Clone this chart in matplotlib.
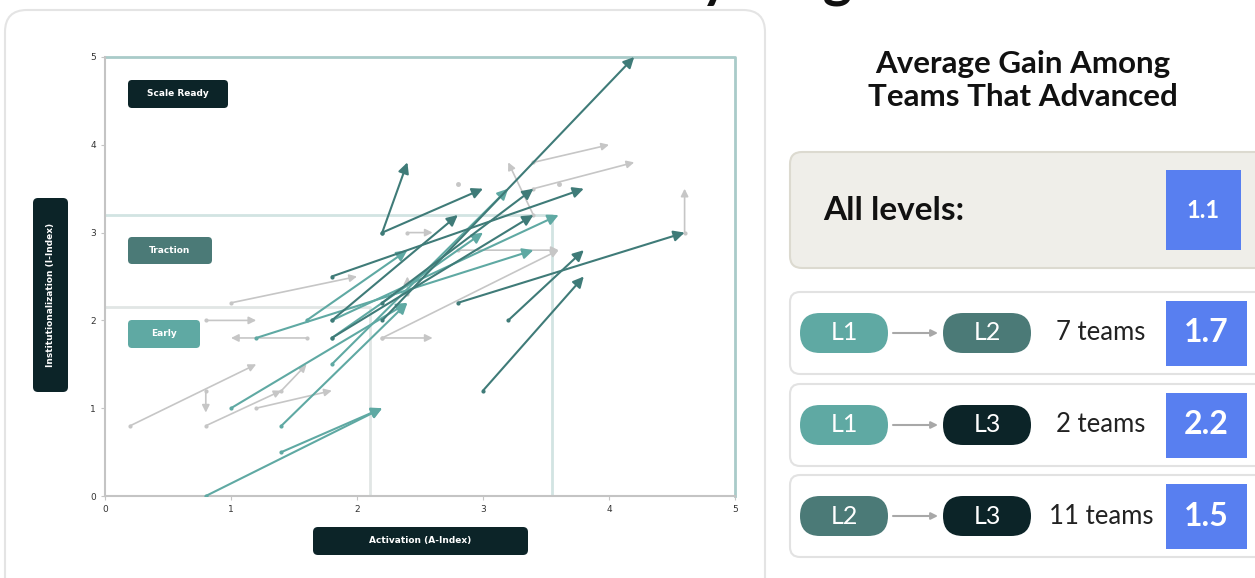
import matplotlib
matplotlib.use("Agg")
import matplotlib.pyplot as plt
from matplotlib.patches import FancyBboxPatch

# ==========================================================
# team moves on the A-Index / I-Index plane (start -> end)
# gray: stayed in level, teal: L1 advanced, dark teal: reached L3
gray_start = [(0.2, 0.8), (0.8, 1.2), (0.8, 0.8), (1.4, 1.2), (1.2, 1.0),
              (0.8, 2.0), (1.6, 1.8), (1.0, 2.2), (2.2, 1.8), (2.2, 1.8),
              (2.8, 2.8), (2.4, 3.0), (3.4, 3.2), (3.4, 3.8), (3.4, 3.5),
              (4.6, 3.0), (2.4, 2.3)]
gray_end = [(1.2, 1.5), (0.8, 0.95), (1.4, 1.2), (1.6, 1.5), (1.8, 1.2),
            (1.2, 2.0), (1.0, 1.8), (2.0, 2.5), (2.6, 1.8), (3.6, 2.8),
            (3.6, 2.8), (2.6, 3.0), (3.2, 3.8), (4.0, 4.0), (4.2, 3.8),
            (4.6, 3.5), (2.4, 2.5)]
gray_still = [(2.8, 3.55), (3.6, 3.55)]

teal_start = [(1.2, 1.8), (1.6, 2.0), (1.8, 2.0), (1.8, 1.8), (1.8, 1.5),
              (1.0, 1.0), (1.4, 0.8), (1.4, 0.5), (0.8, 0.0)]
teal_end = [(3.4, 2.8), (2.4, 2.8), (3.6, 3.2), (3.0, 3.0), (3.2, 3.5),
            (2.4, 2.2), (2.4, 2.2), (2.2, 1.0), (2.2, 1.0)]

dark_start = [(2.2, 3.0), (2.2, 3.0), (1.8, 2.5), (2.8, 2.2), (3.2, 2.0),
              (3.0, 1.2), (2.2, 2.2), (2.2, 2.0), (1.8, 2.0), (1.8, 1.8)]
dark_end = [(2.4, 3.8), (3.0, 3.5), (3.8, 3.5), (4.6, 3.0), (3.8, 2.8),
            (3.8, 2.5), (3.4, 3.5), (4.2, 5.0), (2.8, 3.2), (3.4, 3.2)]

# level boundaries (A, I)
early_lim = (2.1, 2.15)
traction_lim = (3.55, 3.2)
scale_lim = (5.0, 5.0)

# summary panel
all_gain = "1.1"
row_from = ["L1", "L1", "L2"]
row_to = ["L2", "L3", "L3"]
row_teams = ["7 teams", "2 teams", "11 teams"]
row_gain = ["1.7", "2.2", "1.5"]

# ==========================================================
C_L1 = "#5fa9a3"
C_L2 = "#4b7a77"
C_L3 = "#0c2428"
C_DARK_ARROW = "#3f7b78"
C_GRAY = "#c6c6c6"
C_BLUE = "#587ff0"
level_colors = {"L1": C_L1, "L2": C_L2, "L3": C_L3}

W, H = 1255, 578
fig = plt.figure(figsize=(W / 100, H / 100), dpi=100)
fig.patch.set_facecolor("white")

# pixel overlay for cards and labels
bg = fig.add_axes([0, 0, 1, 1])
bg.set_xlim(0, W)
bg.set_ylim(H, 0)
bg.axis("off")


def rbox(x, y, w, h, r, fc, ec="none", lw=1.0, z=1):
    p = FancyBboxPatch((x, y), w, h, boxstyle=f"round,pad=0,rounding_size={r}",
                       fc=fc, ec=ec, lw=lw, zorder=z)
    bg.add_patch(p)
    return p


# title, mostly cut off above the canvas (only descenders show)
bg.text(882, -3, "Team Movement by Stage", ha="right", va="baseline",
        fontsize=40, fontweight="bold", family="Lato", color="#111111")

# left card
rbox(5, 10, 760, 600, 22, "white", "#e4e4e4", 1.5)

# axis label boxes
rbox(33, 198, 35, 194, 5, C_L3, z=2)
bg.text(50.5, 295, "Institutionalization (I-Index)", rotation=90, ha="center",
        va="center", color="white", fontsize=6.5, fontweight="bold", zorder=3)
rbox(313, 527, 215, 28, 5, C_L3, z=2)
bg.text(420.5, 541, "Activation (A-Index)", ha="center", va="center",
        color="white", fontsize=6.5, fontweight="bold", zorder=3)

# level tags in the plot
tags = [("Scale Ready", 128, 80, 100, 28, C_L3),
        ("Traction", 128, 237, 84, 27, C_L2),
        ("Early", 128, 320, 72, 28, C_L1)]
for name, x, y, w, h, c in tags:
    rbox(x, y, w, h, 4, c, z=5)
    bg.text(x + w / 2, y + h / 2, name, ha="center", va="center", color="white",
            fontsize=6.5, fontweight="bold", zorder=6)

# ==========================================================
# the arrow plot
ax = fig.add_axes([105 / W, 1 - 496 / H, 630 / W, 439 / H])
ax.set_zorder(2)
ax.patch.set_alpha(0)
ax.set_xlim(0, 5)
ax.set_ylim(0, 5)
for s in ["top", "right"]:
    ax.spines[s].set_visible(False)
for s in ["left", "bottom"]:
    ax.spines[s].set_color("#c4c4c4")
    ax.spines[s].set_linewidth(1.5)
ax.set_xticks(range(6))
ax.set_yticks(range(6))
ax.tick_params(labelsize=6.5, length=3, color="#c4c4c4", labelcolor="#333333")

# level boundaries
ax.plot([0, early_lim[0], early_lim[0]], [early_lim[1], early_lim[1], 0],
        color="#e1e6e5", lw=2, zorder=1)
ax.plot([0, traction_lim[0], traction_lim[0]], [traction_lim[1], traction_lim[1], 0],
        color="#d2e4e2", lw=2, zorder=1)
ax.plot([0, scale_lim[0], scale_lim[0]], [scale_lim[1], scale_lim[1], 0],
        color="#a9cbc9", lw=2, zorder=1, clip_on=False)


def draw_moves(starts, ends, color, lw, ms, z):
    for (x0, y0), (x1, y1) in zip(starts, ends):
        ax.annotate("", xy=(x1, y1), xytext=(x0, y0),
                    arrowprops=dict(arrowstyle="-|>", color=color, lw=lw,
                                    mutation_scale=ms, shrinkA=0, shrinkB=0),
                    zorder=z, annotation_clip=False)
        ax.plot(x0, y0, "o", color=color, ms=2, zorder=z)


draw_moves(gray_start, gray_end, C_GRAY, 1.2, 11, 2)
ax.plot([p[0] for p in gray_still], [p[1] for p in gray_still], "o",
        color=C_GRAY, ms=2.5, zorder=2)
draw_moves(teal_start, teal_end, C_L1, 1.5, 16, 3)
draw_moves(dark_start, dark_end, C_DARK_ARROW, 1.5, 16, 4)

# ==========================================================
# right panel
for i, line in enumerate(["Average Gain Among", "Teams That Advanced"]):
    bg.text(1023, 64 + 33 * i, line, ha="center", va="center", fontsize=22.5,
            fontweight="bold", family="Lato", color="#111111")

rbox(790, 152, 480, 116, 12, "#efeee9", "#dcdad0", 1.5)
bg.text(823, 210, "All levels:", ha="left", va="center", fontsize=24,
        fontweight="bold", family="Lato", color="#111111")
bg.add_patch(plt.Rectangle((1166, 170), 75, 80, fc=C_BLUE, ec="none", zorder=2))
bg.text(1203.5, 210, all_gain, ha="center", va="center", fontsize=17,
        fontweight="bold", family="Lato", color="white", zorder=3)

card_tops = [292, 384, 475]
for i, top in enumerate(card_tops):
    rbox(790, top, 480, 82, 10, "white", "#e2e2e2", 1.5)
    cy = top + 41
    for j, (lvl, px) in enumerate([(row_from[i], 800), (row_to[i], 943)]):
        rbox(px, cy - 20, 88, 40, 20, level_colors[lvl], z=2)
        bg.text(px + 44, cy, lvl, ha="center", va="center", fontsize=18,
                family="Lato", color="white", zorder=3)
    bg.annotate("", xy=(938, cy), xytext=(893, cy),
                arrowprops=dict(arrowstyle="-|>", color="#a8a8a8", lw=1.5,
                                mutation_scale=10, shrinkA=0, shrinkB=0))
    bg.text(1101, cy, row_teams[i], ha="center", va="center", fontsize=18.5,
            family="Lato", color="#222222")
    bg.add_patch(plt.Rectangle((1166, top + 9), 81, 65, fc=C_BLUE, ec="none",
                               zorder=2))
    bg.text(1206.5, cy, row_gain[i], ha="center", va="center", fontsize=23,
            fontweight="bold", family="Lato", color="white", zorder=3)

fig.savefig("out.png", dpi=100, facecolor="white")
